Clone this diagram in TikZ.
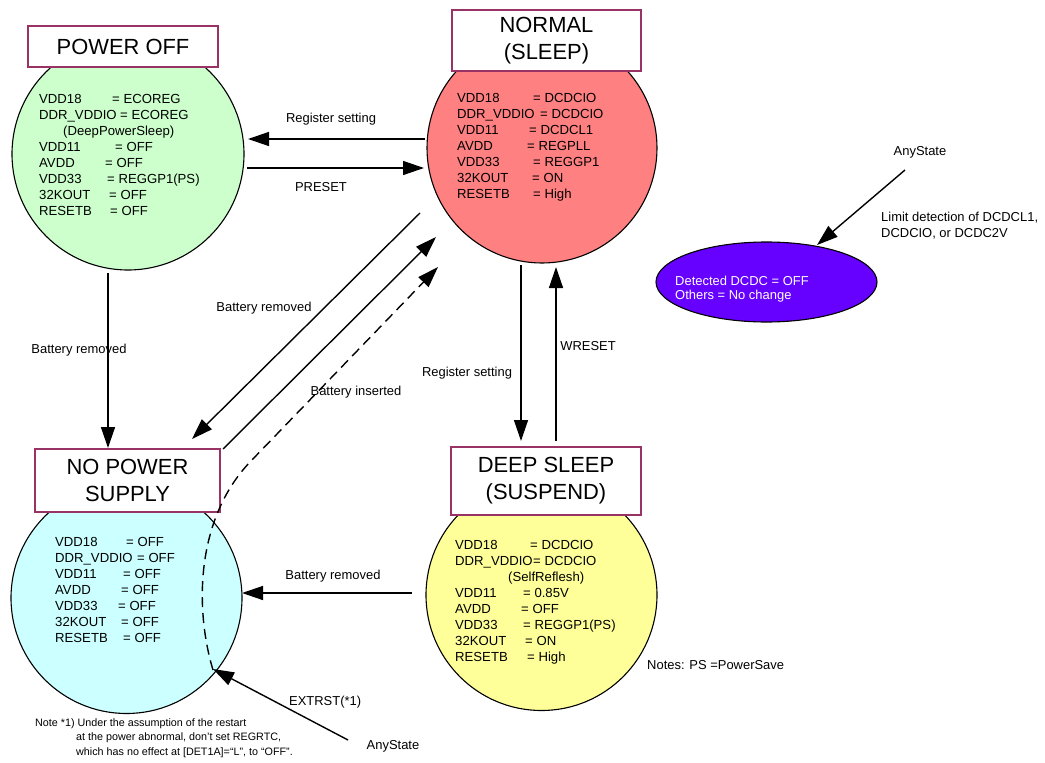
\documentclass[tikz,border=0pt]{standalone}
\usepackage{fontspec}
\setmainfont{Liberation Sans}
\usetikzlibrary{arrows.meta,shapes.geometric,calc}
\definecolor{boxc}{RGB}{153,51,102}
\definecolor{pogreen}{RGB}{204,255,204}
\definecolor{nmred}{RGB}{255,128,128}
\definecolor{npcyan}{RGB}{204,255,255}
\definecolor{dsyellow}{RGB}{255,255,153}
\definecolor{detpurple}{RGB}{102,0,255}
\newcommand{\kvr}[3]{\makebox[#2bp][l]{#1}= #3}
\begin{document}
\begin{tikzpicture}[x=1bp,y=-1bp,
  stcirc/.style={circle,draw=black,line width=1.1bp,inner sep=0pt,outer sep=0pt},
  titlebox/.style={rectangle,draw=boxc,line width=2bp,fill=white,inner sep=0pt,align=center,font=\fontsize{22}{27}\selectfont},
  listtxt/.style={anchor=north west,inner sep=0pt,align=left,font=\fontsize{13.2}{16}\selectfont},
  lbl/.style={inner sep=0pt,font=\fontsize{13}{16}\selectfont},
  arr/.style={-{Triangle[length=21bp,width=14bp]},line width=1.4bp},
  dasharr/.style={arr,dash pattern=on 10bp off 6bp}]
\useasboundingbox (0,0) rectangle (1045,763);

% states
\node[stcirc,fill=pogreen,minimum size=232bp] (po) at (128,154) {};
\node[stcirc,fill=nmred,minimum size=230bp] (nm) at (542,148) {};
\node[stcirc,fill=npcyan,minimum size=231bp] (np) at (126.5,598) {};
\node[stcirc,fill=dsyellow,minimum size=231bp] (ds) at (541.5,595) {};
\node[ellipse,draw=black,line width=1.1bp,fill=detpurple,minimum width=221bp,minimum height=80bp,inner sep=0pt,outer sep=0pt] (det) at (766.5,282) {};

% titles
\node[titlebox,minimum width=190bp,minimum height=41bp] (pot) at (123,46.5) {POWER OFF};
\node[titlebox,minimum width=189bp,minimum height=61bp] (nmt) at (546.5,40.5) {NORMAL\\(SLEEP)};
\node[titlebox,minimum width=185bp,minimum height=63bp] (npt) at (127.5,480.5) {NO POWER\\SUPPLY};
\node[titlebox,minimum width=190bp,minimum height=68bp] (dst) at (546,481) {DEEP SLEEP\\(SUSPEND)};

% state contents
\node[listtxt] (pol) at (39,94.5) {\kvr{VDD18}{73}{ECOREG}\\ \kvr{DDR\_VDDIO}{81}{ECOREG}\\ \hspace*{24bp}(DeepPowerSleep)\\ \kvr{VDD11}{76}{OFF}\\ \kvr{AVDD}{66}{OFF}\\ \kvr{VDD33}{68}{REGGP1(PS)}\\ \kvr{32KOUT}{70}{OFF}\\ \kvr{RESETB}{71}{OFF}};
\node[listtxt] (nml) at (457,93.5) {\kvr{VDD18}{76}{DCDCIO}\\ \kvr{DDR\_VDDIO}{83}{DCDCIO}\\ \kvr{VDD11}{72}{DCDCL1}\\ \kvr{AVDD}{70}{REGPLL}\\ \kvr{VDD33}{76}{REGGP1}\\ \kvr{32KOUT}{75}{ON}\\ \kvr{RESETB}{76}{High}};
\node[listtxt] (npl) at (55,537.5) {\kvr{VDD18}{71}{OFF}\\ \kvr{DDR\_VDDIO}{82}{OFF}\\ \kvr{VDD11}{68}{OFF}\\ \kvr{AVDD}{66}{OFF}\\ \kvr{VDD33}{63}{OFF}\\ \kvr{32KOUT}{66}{OFF}\\ \kvr{RESETB}{68}{OFF}};
\node[listtxt] (dsl) at (455,540.5) {\kvr{VDD18}{75}{DCDCIO}\\ \kvr{DDR\_VDDIO}{78}{DCDCIO}\\ \hspace*{53bp}(SelfReflesh)\\ \kvr{VDD11}{68}{0.85V}\\ \kvr{AVDD}{66}{OFF}\\ \kvr{VDD33}{68}{REGGP1(PS)}\\ \kvr{32KOUT}{70}{ON}\\ \kvr{RESETB}{72}{High}};
\node[inner sep=0pt,anchor=west,align=left,text=white,font=\fontsize{13}{14}\selectfont] (detl) at (675,289) {Detected DCDC = OFF\\Others = No change};

% other texts
\node[lbl] (anyT) at (920,152) {AnyState};
\node[lbl,anchor=west,align=left] (limit) at (881,226) {Limit detection of DCDCL1,\\DCDCIO, or DCDC2V};
\node[lbl] (anyB) at (393,746) {AnyState};
\node[lbl,anchor=west] (notes) at (647,665) {Notes: PS =PowerSave};
\node[inner sep=0pt,anchor=north west,align=left,font=\fontsize{10.8}{14.5}\selectfont] (note1) at (35,718.5) {Note *1) Under the assumption of the restart\\ \hspace*{41bp}at the power abnormal, don't set REGRTC,\\ \hspace*{41bp}which has no effect at [DET1A]=“L”, to “OFF”.};

% connectors
\draw[arr] ($(nm.center)+(-117,-9)$) -- ($(po.center)+(120,-15)$);
\node[lbl] (l1) at (331,119) {Register setting};
\draw[arr] ($(po.center)+(119,14)$) -- ($(nm.center)+(-118,20)$);
\node[lbl] (l2) at (321,187) {PRESET};
\draw[arr] ($(po.center)+(-20,119)$) -- ($(npt.north)+(-19.5,0)$);
\node[lbl] (l3) at (79,350) {Battery removed};
\draw[arr] ($(nm.center)+(-122,65)$) -- ($(npt.north)+(64.5,-9)$);
\node[lbl] (l4) at (264,308) {Battery removed};
\draw[arr] ($(npt.north east)+(2,1)$) -- ($(nm.center)+(-106,89)$);
\draw[dasharr] ($(np.center)+(86.5,72)$) .. controls (195,610) and (195,520) .. (250,462) -- ($(nm.center)+(-104,119)$);
\node[lbl] (l5) at (356,392) {Battery inserted};
\draw[arr] ($(nm.center)+(-21,117)$) -- ($(dst.north)+(-25,-5)$);
\node[lbl] (l6) at (467,373) {Register setting};
\draw[arr] ($(dst.north)+(10,-5)$) -- ($(nm.center)+(14,119)$);
\node[lbl] (l7) at (588,346) {WRESET};
\draw[arr] ($(ds.center)+(-129.5,-2)$) -- ($(np.center)+(115.5,-5)$);
\node[lbl] (l8) at (333,576) {Battery removed};
\draw[arr] ($(anyB.center)+(-45,-6)$) -- ($(np.center)+(86.5,71)$);
\node[lbl,anchor=west] (l9) at (289,702) {EXTRST(*1)};
\draw[arr] ($(anyT.center)+(-15,18)$) -- ($(det.center)+(50.5,-37)$);
\end{tikzpicture}
\end{document}
